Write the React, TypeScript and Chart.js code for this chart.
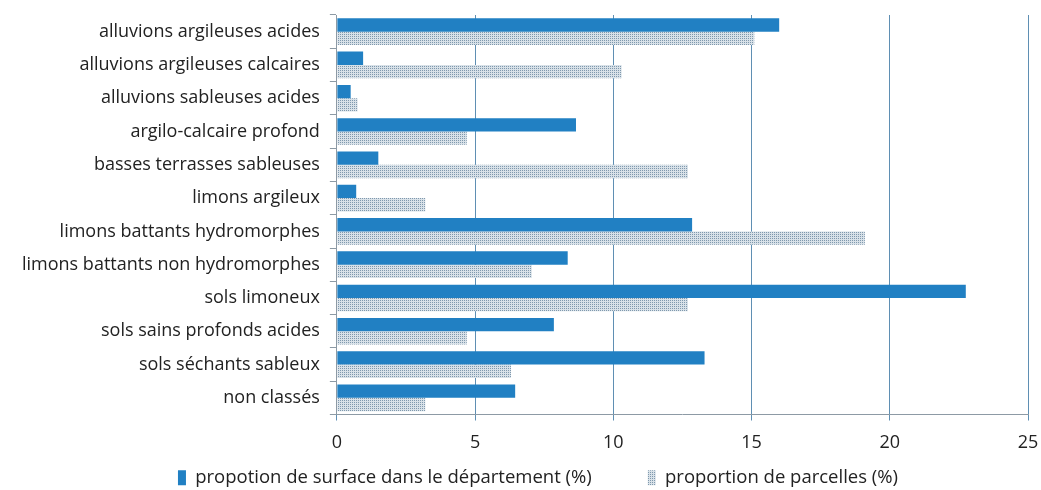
import React, { useEffect, useRef } from "react";
import { Chart, registerables } from "chart.js";

Chart.register(...registerables);

const categories = [
  "alluvions argileuses acides",
  "alluvions argileuses calcaires",
  "alluvions sableuses acides",
  "argilo-calcaire profond",
  "basses terrasses sableuses",
  "limons argileux",
  "limons battants hydromorphes",
  "limons battants non hydromorphes",
  "sols limoneux",
  "sols sains profonds acides",
  "sols séchants sableux",
  "non classés",
];

const surfaceValues = [16.0, 0.95, 0.5, 8.65, 1.5, 0.7, 12.85, 8.35, 22.75, 7.85, 13.3, 6.45];
const parcellesValues = [15.1, 10.3, 0.75, 4.7, 12.7, 3.2, 19.1, 7.05, 12.7, 4.7, 6.3, 3.2];

const seriesLabels = [
  "propotion de surface dans le département (%)",
  "proportion de parcelles (%)",
];

const xTicks = [0, 5, 10, 15, 20, 25];

function makePattern(): CanvasPattern | string {
  const c = document.createElement("canvas");
  c.width = 2;
  c.height = 2;
  const ctx = c.getContext("2d");
  if (!ctx) return "#c9d4dc";
  ctx.fillStyle = "#d8e1e8";
  ctx.fillRect(0, 0, 2, 2);
  ctx.fillStyle = "#7f98ad";
  ctx.fillRect(0, 0, 1, 1);
  const main = document.createElement("canvas").getContext("2d");
  const p = main ? main.createPattern(c, "repeat") : null;
  return p || "#c9d4dc";
}

const shiftLegend = {
  id: "shiftLegend",
  afterLayout(chart: any) {
    const lg = chart.legend;
    if (lg) {
      lg.left += 18;
      lg.right += 18;
    }
  },
};

export default function App() {
  const ref = useRef<HTMLCanvasElement | null>(null);
  useEffect(() => {
    if (!ref.current) return;
    const pattern = makePattern();
    const font = "'Open Sans', sans-serif";
    const chart = new Chart(ref.current, {
      type: "bar",
      data: {
        labels: categories,
        datasets: [
          {
            label: seriesLabels[0],
            data: surfaceValues,
            backgroundColor: "#2180c3",
            borderWidth: 0,
            categoryPercentage: 0.8,
            barPercentage: 1.0,
          },
          {
            label: seriesLabels[1],
            data: parcellesValues,
            backgroundColor: pattern as any,
            borderWidth: 0,
            categoryPercentage: 0.8,
            barPercentage: 1.0,
          },
        ],
      },
      plugins: [shiftLegend],
      options: {
        indexAxis: "y",
        animation: false,
        responsive: false,
        maintainAspectRatio: false,
        layout: { padding: { top: 15, right: 13, left: 12, bottom: -9 } },
        plugins: {
          tooltip: { enabled: false },
          legend: {
            position: "bottom",
            labels: {
              font: { family: font, size: 18.5 },
              color: "#222",
              boxWidth: 8,
              boxHeight: 15,
              padding: 56,
            },
          },
        },
        scales: {
          x: {
            min: 0,
            max: 25,
            afterBuildTicks: (axis: any) => {
              axis.ticks = xTicks.map((v) => ({ value: v }));
            },
            afterFit: (axis: any) => {
              axis.height = -2;
              axis.paddingRight = 0;
              axis._computeLabelArea = () => undefined;
            },
            grid: {
              color: "#5f8fb3",
              lineWidth: 1,
              drawTicks: true,
              tickLength: 6,
            },
            border: { display: true, color: "#8d9aa5" },
            ticks: {
              font: { family: font, size: 18 },
              color: "#222",
              padding: 12,
            },
          },
          y: {
            afterFit: (axis: any) => {
              axis.paddingTop = 0;
              axis.paddingBottom = 0;
            },
            grid: {
              offset: true,
              drawOnChartArea: false,
              drawTicks: true,
              tickLength: 7,
              color: "#8d9aa5",
            },
            border: { display: true, color: "#8d9aa5" },
            ticks: {
              font: { family: font, size: 18 },
              color: "#222",
              padding: 10,
            },
          },
        },
      },
    });
    return () => chart.destroy();
  }, []);
  return (
    <div style={{ position: "absolute", left: 0, top: 0, width: 1041, height: 490, background: "#fff" }}>
      <canvas ref={ref} width={1041} height={490} />
    </div>
  );
}
